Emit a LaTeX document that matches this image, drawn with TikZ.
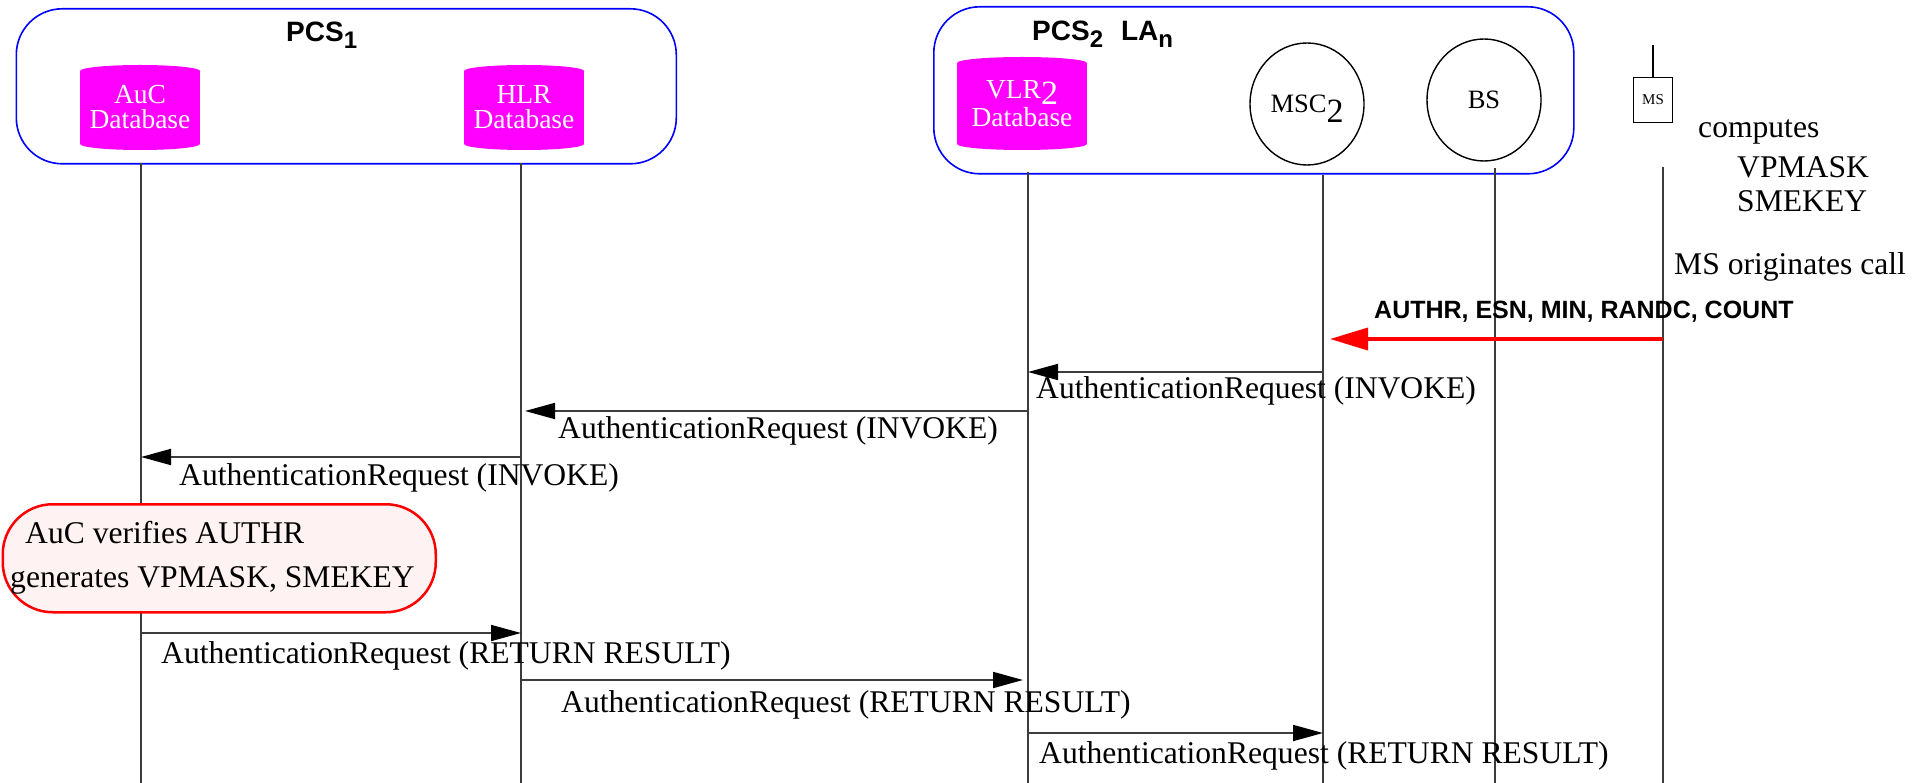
\documentclass[tikz,border=0pt]{standalone}
\usepackage{fontspec}
\setmainfont{Liberation Serif}
\newfontfamily\hvfont{Liberation Sans}
\usetikzlibrary{arrows.meta,shapes.geometric}
\definecolor{notefill}{RGB}{255,242,242}
\definecolor{lifegray}{RGB}{60,60,60}
\definecolor{dbmag}{RGB}{255,0,255}
\newcommand\dbcyl[4]{%
  \fill[dbmag] (#1-#4,#2+6) rectangle (#1+#4,#3-6);
  \fill[dbmag] (#1,#2+6) ellipse ({#4*1pt} and 6pt);
  \fill[dbmag] (#1,#3-6) ellipse ({#4*1pt} and 6pt);}
\newcommand\bigsub[3]{\raisebox{-#2}[0pt][0pt]{\fontsize{#1}{#1}\selectfont #3}}
\begin{document}
\begin{tikzpicture}[x=1pt,y=-1pt,
  grp/.style={draw=blue, line width=1.6pt, rounded corners=46pt, anchor=north west, inner sep=0pt},
  dbtext/.style={text=white, align=center, inner sep=0pt, font=\fontsize{27.5}{25}\selectfont},
  unit/.style={draw, ellipse, line width=1.4pt, inner sep=0pt, minimum width=114pt, minimum height=122pt, font=\fontsize{26.5}{26.5}\selectfont},
  lbl/.style={anchor=base west, inner sep=0pt, font=\fontsize{31.6}{31.6}\selectfont},
  life/.style={draw=lifegray, line width=1.3pt},
  msg/.style={draw=lifegray, line width=1.8pt, -{Triangle[length=30pt,width=16pt,color=black,fill=black]}},
  redmsg/.style={draw=red, line width=3.5pt, -{Triangle[length=38pt,width=22pt]}},
  hdr/.style={anchor=base west, inner sep=0pt, font=\hvfont\bfseries\fontsize{28}{28}\selectfont},
]
\useasboundingbox (0,0) rectangle (1926,783);

% groups
\node[grp, minimum width=660pt, minimum height=155pt] (pcs1) at (15.5,8) {};
\node[grp, minimum width=640pt, minimum height=167pt] (pcs2) at (933,6) {};
\node[hdr] (pcs1l) at (286,42) {PCS\bigsub{24}{7pt}{1}};
\node[hdr] (pcs2l) at (1032,41) {PCS\bigsub{24}{7pt}{2}\hspace{18pt}LA\bigsub{24}{7pt}{n}};

% databases
\dbcyl{140}{65}{150}{60}
\node[dbtext] (auc) at (140,107) {AuC\\Database};
\dbcyl{524}{65}{150}{60}
\node[dbtext] (hlr) at (524,107) {HLR\\Database};
\dbcyl{1022}{57}{150}{65}
\node[dbtext, font=\fontsize{27.5}{28}\selectfont] (vlr) at (1022,104) {VLR\bigsub{34}{6pt}{2}\\Database};

% units
\node[unit] (msc) at (1307,104) {MSC\bigsub{34}{10pt}{2}};
\node[unit] (bs) at (1484,100) {BS};
\node[draw, line width=1.2pt, minimum width=39pt, minimum height=45pt, inner sep=0pt, font=\fontsize{15}{15}\selectfont] (ms) at (1653,100) {MS};
\coordinate (msant) at (1653,45);
\draw[line width=1.2pt] (ms.north) -- (msant);

% lifelines
\coordinate (aucT) at (141,163); \coordinate (aucB) at (141,783);
\coordinate (hlrT) at (521,163); \coordinate (hlrB) at (521,783);
\coordinate (vlrT) at (1028,172); \coordinate (vlrB) at (1028,783);
\coordinate (mscT) at (1323,175); \coordinate (mscB) at (1323,783);
\coordinate (bsT) at (1495,168); \coordinate (bsB) at (1495,783);
\coordinate (msT) at (1663,167); \coordinate (msB) at (1663,783);
\draw[life] (aucT) -- (aucB);
\draw[life] (hlrT) -- (hlrB);
\draw[life] (vlrT) -- (vlrB);
\draw[life] (mscT) -- (mscB);
\draw[life] (bsT) -- (bsB);
\draw[life] (msT) -- (msB);

% MS side texts
\node[lbl] (comp) at (1698,138) {computes};
\node[lbl] (vpm) at (1737,178) {VPMASK};
\node[lbl] (sme) at (1737,212) {SMEKEY};
\node[lbl] (orig) at (1674,275) {MS originates call};
\node[anchor=base west, inner sep=0pt, font=\hvfont\bfseries\fontsize{25}{25}\selectfont] (redl) at (1374,319) {AUTHR, ESN, MIN, RANDC, COUNT};

% rows
\coordinate (rr) at (0,339);
\coordinate (r1) at (0,372);
\coordinate (r2) at (0,411);
\coordinate (r3) at (0,457);
\coordinate (r4) at (0,633);
\coordinate (r5) at (0,680);
\coordinate (r6) at (0,733);

\draw[redmsg, shorten >=7pt] (msT |- rr) -- (mscT |- rr);
\draw[msg] (mscT |- r1) -- (vlrT |- r1);
\node[lbl] (l1) at (1036,398) {AuthenticationRequest (INVOKE)};
\draw[msg, shorten >=4pt] (vlrT |- r2) -- (hlrT |- r2);
\node[lbl] (l2) at (558,438) {AuthenticationRequest (INVOKE)};
\draw[msg] (hlrT |- r3) -- (aucT |- r3);
\node[lbl] (l3) at (179,485) {AuthenticationRequest (INVOKE)};

% note
\node[draw=red, fill=notefill, line width=2.5pt, rounded corners=50pt, minimum width=433pt, minimum height=108pt, anchor=north west, inner sep=0pt] (note) at (1.5,503) {};
\node[lbl] (n1) at (25,543) {AuC verifies AUTHR};
\node[lbl] (n2) at (10,587) {generates VPMASK, SMEKEY};

\draw[msg] (aucT |- r4) -- (hlrT |- r4);
\node[lbl] (l4) at (161,663) {AuthenticationRequest (RETURN RESULT)};
\draw[msg, shorten >=5pt] (hlrT |- r5) -- (vlrT |- r5);
\node[lbl] (l5) at (561,712) {AuthenticationRequest (RETURN RESULT)};
\draw[msg] (vlrT |- r6) -- (mscT |- r6);
\node[lbl] (l6) at (1039,763) {AuthenticationRequest (RETURN RESULT)};
\end{tikzpicture}
\end{document}
